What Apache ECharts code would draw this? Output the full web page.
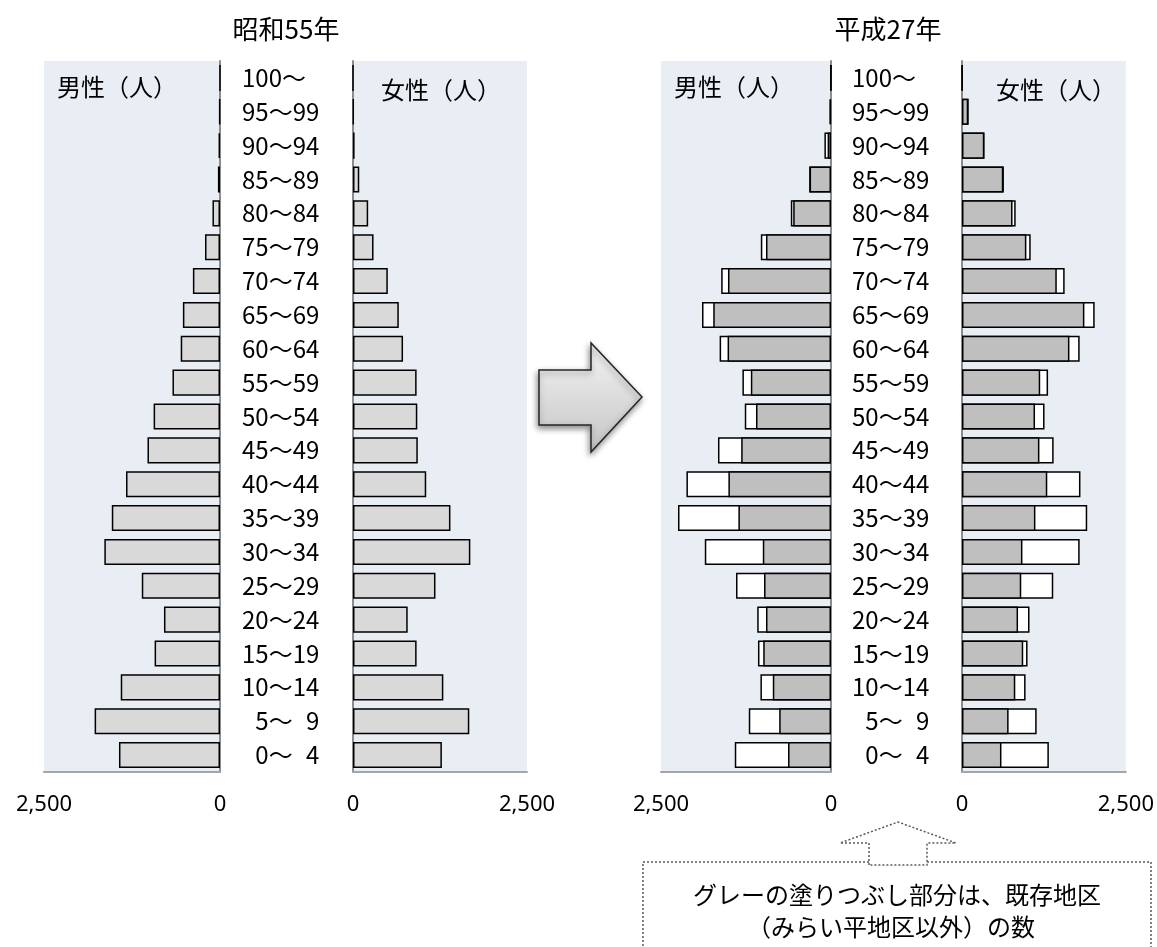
<!DOCTYPE html>
<html>
<head>
<meta charset="utf-8">
<script src="https://cdn.jsdelivr.net/npm/echarts@6/dist/echarts.min.js"></script>
<style>
  html, body { margin: 0; padding: 0; background: #fff; }
  #chart { width: 1157px; height: 947px; }
</style>
</head>
<body>
<div id="chart"></div>
<script>
// age groups, bottom to top
const ageLabels = ['\u20070～\u20074', '\u20075～\u20079', '10～14', '15～19', '20～24', '25～29', '30～34',
  '35～39', '40～44', '45～49', '50～54', '55～59', '60～64', '65～69', '70～74', '75～79',
  '80～84', '85～89', '90～94', '95～99', '100～'];

// 昭和55年
const maleS55 = [1435, 1781, 1410, 929, 796, 1111, 1643, 1537, 1335, 1030, 943, 675, 558, 527, 385, 213, 107, 30, 20, 10, 0];
const femaleS55 = [1277, 1671, 1298, 914, 786, 1185, 1686, 1400, 1052, 931, 924, 914, 719, 658, 500, 295, 218, 90, 23, 8, 0];

// 平成27年 (total / existing districts)
const maleH27Total = [1415, 1209, 1038, 1074, 1085, 1397, 1856, 2250, 2126, 1662, 1268, 1303, 1638, 1897, 1615, 1032, 591, 321, 97, 20, 4];
const maleH27Existing = [632, 762, 856, 997, 956, 985, 1003, 1362, 1509, 1321, 1103, 1179, 1521, 1732, 1515, 956, 556, 315, 50, 18, 4];
const femaleH27Total = [1325, 1139, 970, 1000, 1030, 1392, 1795, 1910, 1807, 1398, 1259, 1313, 1795, 2024, 1566, 1048, 819, 639, 343, 102, 5];
const femaleH27Existing = [602, 711, 813, 934, 855, 904, 922, 1120, 1301, 1181, 1114, 1193, 1639, 1867, 1446, 982, 771, 630, 340, 95, 5];

const tickValues = [0, 2500];

const JP = '"Noto Sans CJK JP", sans-serif';
const plotBg = '#e9edf4';

const chart = echarts.init(document.getElementById('chart'), null, { renderer: 'canvas' });

// grids: left-male, left-female, right-male, right-female
const grids = [
  { left: 44, width: 176 },
  { left: 353, width: 174 },
  { left: 661, width: 170 },
  { left: 962, width: 166 }
].map(g => ({
  left: g.left, width: g.width, top: 61, height: 711,
  show: true, backgroundColor: plotBg, borderWidth: 0
}));

function xAxisFor(i, inverse) {
  return {
    type: 'value', gridIndex: i, inverse: inverse,
    min: tickValues[0], max: tickValues[1], interval: tickValues[1] - tickValues[0],
    splitLine: { show: false },
    axisTick: { show: false },
    axisLine: { show: true, lineStyle: { color: '#a6a6a6', width: 2 } },
    axisLabel: {
      margin: 22, fontSize: 22, color: '#000', fontFamily: '"Noto Sans", sans-serif',
      formatter: v => v.toLocaleString('en-US')
    }
  };
}

function yAxisFor(i, side, showLabels, margin) {
  return {
    type: 'category', gridIndex: i, data: ageLabels, position: side,
    axisTick: { show: false },
    axisLine: { show: true, onZero: false, lineStyle: { color: '#8c8c8c', width: 2 } },
    axisLabel: {
      show: showLabels, margin: margin, align: 'left',
      fontSize: 24, color: '#000', fontFamily: JP
    }
  };
}

const solidBar = (name, idx, data, color) => ({
  name: name, type: 'bar', xAxisIndex: idx, yAxisIndex: idx, data: data,
  barCategoryGap: '23%', barGap: '-100%', animation: false,
  itemStyle: { color: color, borderColor: '#000', borderWidth: 1.5 }
});

const option = {
  animation: false,
  grid: grids,
  xAxis: [xAxisFor(0, true), xAxisFor(1, false), xAxisFor(2, true), xAxisFor(3, false)],
  yAxis: [yAxisFor(0, 'right', true, 22), yAxisFor(1, 'left', false, 8),
          yAxisFor(2, 'right', true, 21), yAxisFor(3, 'left', false, 8)],
  series: [
    solidBar('男性S55', 0, maleS55, '#d9d9d9'),
    solidBar('女性S55', 1, femaleS55, '#d9d9d9'),
    solidBar('男性H27', 2, maleH27Total, '#ffffff'),
    solidBar('男性H27既存', 2, maleH27Existing, '#bfbfbf'),
    solidBar('女性H27', 3, femaleH27Total, '#ffffff'),
    solidBar('女性H27既存', 3, femaleH27Existing, '#bfbfbf')
  ],
  graphic: [
    { type: 'text', style: { x: 286, y: 29, text: '昭和55年', font: '26px ' + JP, fill: '#000', textAlign: 'center', textVerticalAlign: 'middle' } },
    { type: 'text', style: { x: 888, y: 29, text: '平成27年', font: '26px ' + JP, fill: '#000', textAlign: 'center', textVerticalAlign: 'middle' } },
    { type: 'text', z: 10, style: { x: 57, y: 87, text: '男性（人）', font: '24px ' + JP, fill: '#000', textVerticalAlign: 'middle' } },
    { type: 'text', z: 10, style: { x: 381, y: 90, text: '女性（人）', font: '24px ' + JP, fill: '#000', textVerticalAlign: 'middle' } },
    { type: 'text', z: 10, style: { x: 674, y: 87, text: '男性（人）', font: '24px ' + JP, fill: '#000', textVerticalAlign: 'middle' } },
    { type: 'text', z: 10, style: { x: 996, y: 90, text: '女性（人）', font: '24px ' + JP, fill: '#000', textVerticalAlign: 'middle' } },
    // big block arrow between the two pyramids
    {
      type: 'polygon',
      shape: { points: [[539, 370], [591, 370], [591, 343], [642, 397], [591, 452], [591, 425], [539, 425]] },
      style: {
        fill: new echarts.graphic.LinearGradient(0, 0, 0, 1, [
          { offset: 0, color: '#f4f4f4' }, { offset: 1, color: '#c4c4c4' }
        ]),
        stroke: '#262626', lineWidth: 1.5,
        shadowBlur: 6, shadowColor: 'rgba(0,0,0,0.45)', shadowOffsetX: -1, shadowOffsetY: 3
      }
    },
    // note box
    {
      type: 'rect', z: 5,
      shape: { x: 643, y: 862, width: 508, height: 100 },
      style: { fill: 'none', stroke: '#595959', lineWidth: 1.5, lineDash: [2, 2] }
    },
    {
      type: 'polygon', z: 6,
      shape: { points: [[869, 865], [869, 843], [840, 843], [898, 822], [956, 843], [927, 843], [927, 865]] },
      style: { fill: '#fff', stroke: '#595959', lineWidth: 1.5, lineDash: [2, 2] }
    },
    { type: 'text', z: 7, style: { x: 897, y: 895, text: 'グレーの塗りつぶし部分は、既存地区', font: '24px ' + JP, fill: '#000', textAlign: 'center', textVerticalAlign: 'middle' } },
    { type: 'text', z: 7, style: { x: 891, y: 927, text: '（みらい平地区以外）の数', font: '24px ' + JP, fill: '#000', textAlign: 'center', textVerticalAlign: 'middle' } }
  ]
};

chart.setOption(option);
</script>
</body>
</html>
